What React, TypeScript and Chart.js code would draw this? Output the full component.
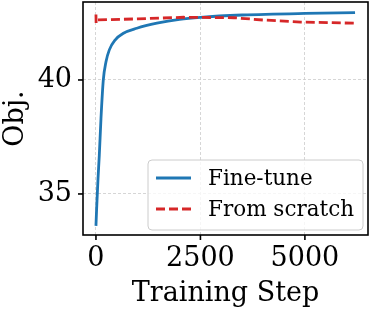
import React, { useEffect, useRef } from "react";
import { Chart, registerables } from "chart.js";

Chart.register(...registerables);

const seriesLabels = ["Fine-tune", "From scratch"];
const ftSteps = [0, 15, 30, 50, 80, 120, 176, 240, 320, 457, 657, 978, 1458, 2000, 2500, 3500, 5000, 6200];
const ftObj = [33.6, 34.3, 34.9, 35.7, 36.7, 38.3, 40.0, 40.8, 41.32, 41.75, 42.05, 42.27, 42.49, 42.66, 42.75, 42.85, 42.92, 42.95];
const fsSteps = [0, 4, 10, 1000, 2100, 3300, 4000, 4900, 6200];
const fsObj = [42.87, 42.5, 42.63, 42.68, 42.75, 42.73, 42.63, 42.54, 42.49];
const xTicks = [0, 2500, 5000];
const yTicks = [35, 40];
const xRange = [-310, 6510];
const yRange = [33.2, 43.42];
const xTitle = "Training Step";
const yTitle = "Obj.";

const FONT = "DejaVu Serif";

const framePlugin = {
  id: "mplFrame",
  afterDatasetsDraw(chart: any) {
    const ctx = chart.ctx;
    const { left, right, top, bottom } = chart.chartArea;
    ctx.save();
    ctx.strokeStyle = "#000";
    ctx.lineWidth = 1.6;
    const xs = chart.scales.x;
    const ys = chart.scales.y;
    xTicks.forEach((v) => {
      const px = xs.getPixelForValue(v);
      ctx.beginPath();
      ctx.moveTo(px, bottom);
      ctx.lineTo(px, bottom + 5);
      ctx.stroke();
    });
    yTicks.forEach((v) => {
      const py = ys.getPixelForValue(v);
      ctx.beginPath();
      ctx.moveTo(left, py);
      ctx.lineTo(left - 5, py);
      ctx.stroke();
    });
    ctx.strokeRect(left, top, right - left, bottom - top);

    const bw = 215;
    const bh = 70;
    const bx = right - 5 - bw;
    const by = bottom - 5 - bh;
    ctx.beginPath();
    const r = 4;
    ctx.moveTo(bx + r, by);
    ctx.lineTo(bx + bw - r, by);
    ctx.quadraticCurveTo(bx + bw, by, bx + bw, by + r);
    ctx.lineTo(bx + bw, by + bh - r);
    ctx.quadraticCurveTo(bx + bw, by + bh, bx + bw - r, by + bh);
    ctx.lineTo(bx + r, by + bh);
    ctx.quadraticCurveTo(bx, by + bh, bx, by + bh - r);
    ctx.lineTo(bx, by + r);
    ctx.quadraticCurveTo(bx, by, bx + r, by);
    ctx.closePath();
    ctx.fillStyle = "rgba(255,255,255,0.8)";
    ctx.fill();
    ctx.strokeStyle = "#cccccc";
    ctx.lineWidth = 1;
    ctx.stroke();

    chart.data.datasets.forEach((ds: any, i: number) => {
      const ry = by + 18 + i * 31;
      ctx.beginPath();
      ctx.strokeStyle = ds.borderColor;
      ctx.lineWidth = ds.borderWidth;
      ctx.setLineDash(ds.borderDash || []);
      ctx.moveTo(bx + 8, ry);
      ctx.lineTo(bx + 43, ry);
      ctx.stroke();
      ctx.setLineDash([]);
      ctx.fillStyle = "#000";
      ctx.font = `21.5px "${FONT}"`;
      ctx.textBaseline = "middle";
      ctx.textAlign = "left";
      ctx.fillText(ds.label, bx + 60, ry + 1);
    });
    ctx.restore();
  },
};

export default function App() {
  const ref = useRef<HTMLCanvasElement | null>(null);
  useEffect(() => {
    if (!ref.current) return;
    const chart = new Chart(ref.current, {
      type: "line",
      data: {
        datasets: [
          {
            label: seriesLabels[0],
            data: ftSteps.map((s, i) => ({ x: s, y: ftObj[i] })),
            borderColor: "#1f77b4",
            borderWidth: 2.8,
            pointRadius: 0,
            cubicInterpolationMode: "monotone",
            fill: false,
            order: 1,
          },
          {
            label: seriesLabels[1],
            data: fsSteps.map((s, i) => ({ x: s, y: fsObj[i] })),
            borderColor: "#d62728",
            borderWidth: 2.8,
            borderDash: [9, 4],
            pointRadius: 0,
            tension: 0,
            fill: false,
            order: 0,
          },
        ],
      },
      options: {
        responsive: false,
        animation: false,
        devicePixelRatio: 1,
        layout: { padding: { top: 2, right: 2, left: 0, bottom: 0 } },
        plugins: { legend: { display: false }, tooltip: { enabled: false } },
        scales: {
          x: {
            type: "linear",
            min: xRange[0],
            max: xRange[1],
            afterBuildTicks: (s: any) => {
              s.ticks = xTicks.map((v) => ({ value: v }));
            },
            afterFit: (s: any) => {
              s.height = 75;
              s.paddingLeft = 0;
              s.paddingRight = 0;
            },
            ticks: {
              color: "#000",
              font: { family: FONT, size: 27 },
              padding: 8,
              maxRotation: 0,
              autoSkip: false,
              callback: (v: any) => String(v),
            },
            grid: { color: "#cccccc", lineWidth: 0.8, drawTicks: false },
            border: { display: false, dash: [3, 2] },
            title: {
              display: true,
              text: xTitle,
              color: "#000",
              font: { family: FONT, size: 27, lineHeight: 1.2 },
              padding: { top: 1, bottom: 0 },
            },
          },
          y: {
            type: "linear",
            min: yRange[0],
            max: yRange[1],
            afterBuildTicks: (s: any) => {
              s.ticks = yTicks.map((v) => ({ value: v }));
            },
            afterFit: (s: any) => {
              s.width = 83;
              s.paddingTop = 0;
              s.paddingBottom = 0;
            },
            ticks: {
              color: "#000",
              font: { family: FONT, size: 27 },
              padding: 11,
              autoSkip: false,
              callback: (v: any) => String(v),
            },
            grid: { color: "#cccccc", lineWidth: 0.8, drawTicks: false },
            border: { display: false, dash: [3, 2] },
            title: {
              display: true,
              text: yTitle,
              color: "#000",
              font: { family: FONT, size: 27, lineHeight: 1.2 },
              padding: { top: 0, bottom: 0 },
            },
          },
        },
      },
      plugins: [framePlugin],
    } as any);
    return () => chart.destroy();
  }, []);
  return (
    <div style={{ position: "absolute", left: 0, top: 0, width: 370, height: 310, background: "#fff" }}>
      <canvas ref={ref} width={370} height={310} style={{ display: "block", width: 370, height: 310 }} />
    </div>
  );
}
